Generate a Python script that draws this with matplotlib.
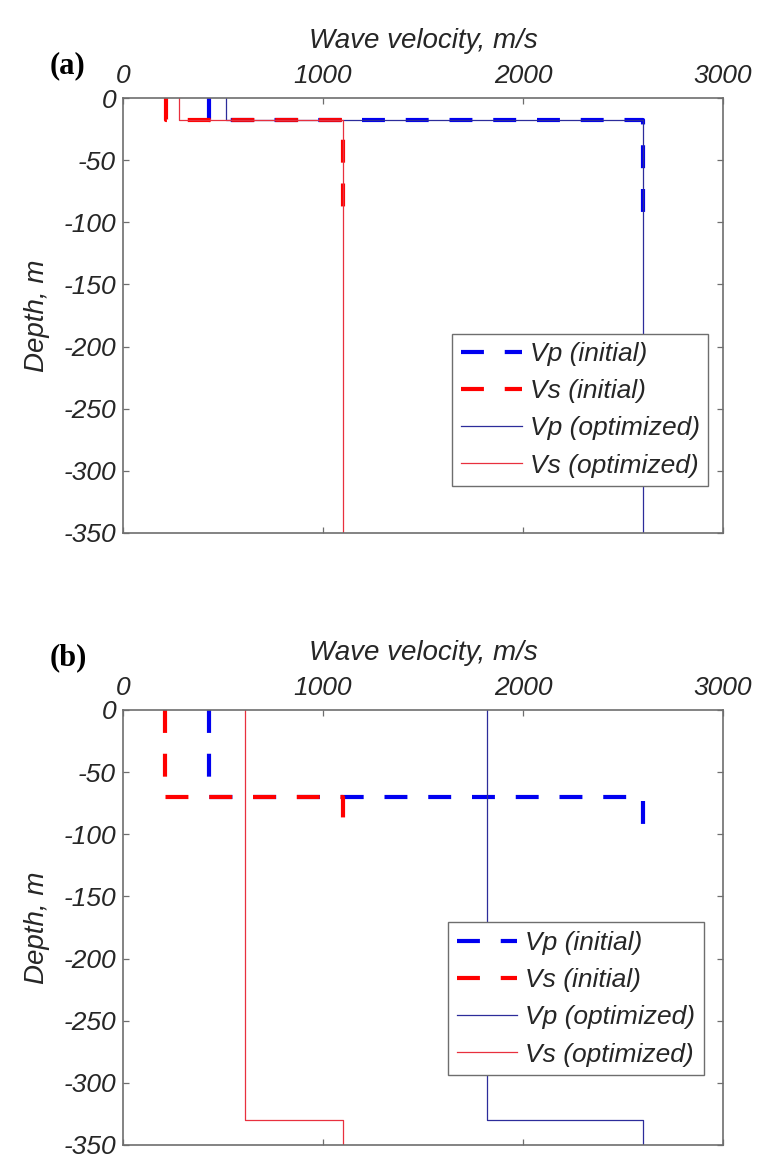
import matplotlib
matplotlib.use("Agg")
import matplotlib.pyplot as plt

plt.rcParams['font.family'] = ['Liberation Sans', 'DejaVu Sans']
plt.rcParams['axes.unicode_minus'] = False

## Data (velocity in m/s, depth in m)
x_ticks = [0, 1000, 2000, 3000]
y_ticks = [0, -50, -100, -150, -200, -250, -300, -350]

# panel (a)
a_init_z = [0, -18, -18, -100]
a_vp_init = [430, 430, 2600, 2600]
a_vs_init = [215, 215, 1100, 1100]
a_opt_z = [0, -18, -18, -350]
a_vp_opt = [515, 515, 2600, 2600]
a_vs_opt = [280, 280, 1100, 1100]

# panel (b)
b_init_z = [0, -70, -70, -100]
b_vp_init = [430, 430, 2600, 2600]
b_vs_init = [210, 210, 1100, 1100]
b_opt_z = [0, -330, -330, -350]
b_vp_opt = [1820, 1820, 2600, 2600]
b_vs_opt = [610, 610, 1100, 1100]

labels = ['Vp (initial)', 'Vs (initial)', 'Vp (optimized)', 'Vs (optimized)']

W, H = 761, 1162
fig = plt.figure(figsize=(W / 100, H / 100), dpi=100)

frame_col = '#6e6e6e'
text_col = '#262626'


def draw_panel(ax, init_z, vp_init, vs_init, opt_z, vp_opt, vs_opt, leg_anchor):
    ax.plot(vp_init, init_z, color='#0000f0', lw=3, dashes=(5.5, 5.0),
            solid_capstyle='butt', dash_capstyle='butt', label=labels[0])
    ax.plot(vs_init, init_z, color='#ff0000', lw=3, dashes=(5.5, 5.0),
            solid_capstyle='butt', dash_capstyle='butt', label=labels[1])
    ax.plot(vp_opt, opt_z, color='#2c2c9a', lw=0.9, label=labels[2])
    ax.plot(vs_opt, opt_z, color='#e8303e', lw=0.9, label=labels[3])

    ax.set_xlim(0, 3000)
    ax.set_ylim(-350, 0)
    ax.set_xticks(x_ticks)
    ax.set_yticks(y_ticks)
    ax.xaxis.tick_top()
    ax.xaxis.set_label_position('top')
    ax.tick_params(axis='both', which='both', direction='in', length=4,
                   width=0.9, color=frame_col, labelcolor=text_col,
                   labelsize=19, top=True, bottom=True, left=True, right=True)
    ax.tick_params(axis='x', pad=7)
    ax.tick_params(axis='y', pad=5)
    for lab in ax.get_xticklabels() + ax.get_yticklabels():
        lab.set_fontstyle('italic')
    for sp in ax.spines.values():
        sp.set_color(frame_col)
        sp.set_linewidth(1.2)

    ax.set_xlabel('Wave velocity, m/s', fontsize=20, style='italic',
                  color=text_col, labelpad=12)
    ax.set_ylabel('Depth, m', fontsize=20, style='italic',
                  color=text_col, labelpad=10)

    leg = ax.legend(loc='lower right', bbox_to_anchor=leg_anchor,
                    borderaxespad=0, fancybox=False, framealpha=1,
                    edgecolor=frame_col, handlelength=2.3,
                    handletextpad=0.3, labelspacing=0.5, borderpad=0.32,
                    prop={'style': 'italic', 'size': 19})
    leg.get_frame().set_linewidth(1.0)
    for t in leg.get_texts():
        t.set_color(text_col)


ax_a = fig.add_axes([123 / W, 1 - 533 / H, 600 / W, 435 / H])
draw_panel(ax_a, a_init_z, a_vp_init, a_vs_init, a_opt_z, a_vp_opt, a_vs_opt,
           (0.975, 0.108))

ax_b = fig.add_axes([123 / W, 1 - 1145 / H, 600 / W, 435 / H])
draw_panel(ax_b, b_init_z, b_vp_init, b_vs_init, b_opt_z, b_vp_opt, b_vs_opt,
           (0.968, 0.161))

fig.text(50 / W, 1 - 66 / H, '(a)', family=['Liberation Serif', 'DejaVu Serif'],
         weight='bold', fontsize=22, ha='left', va='center')
fig.text(50 / W, 1 - 658 / H, '(b)', family=['Liberation Serif', 'DejaVu Serif'],
         weight='bold', fontsize=22, ha='left', va='center')

fig.savefig('out.png', dpi=100)
